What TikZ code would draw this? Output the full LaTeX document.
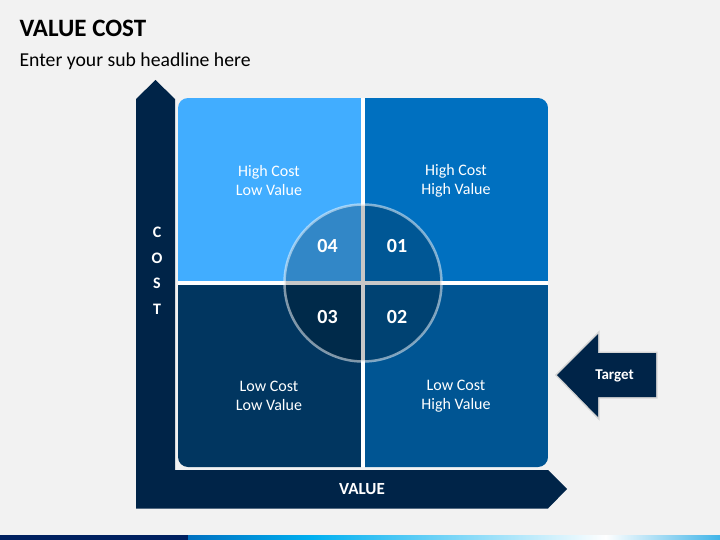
\documentclass[tikz,border=0pt]{standalone}
\usepackage{fontspec}
\setmainfont{Carlito}
\usetikzlibrary{positioning}

\definecolor{pagebg}{RGB}{242,242,242}
\definecolor{axisnavy}{RGB}{0,36,72}
\definecolor{qtl}{RGB}{65,173,255}
\definecolor{qtr}{RGB}{0,112,192}
\definecolor{qbl}{RGB}{1,54,96}
\definecolor{qbr}{RGB}{0,85,147}
\definecolor{stripnavy}{RGB}{0,32,96}
\definecolor{stripblue}{RGB}{0,112,192}
\definecolor{stripcyan}{RGB}{0,176,240}
\definecolor{stripend}{RGB}{64,180,232}

\begin{document}
\begin{tikzpicture}[x=1pt,y=-1pt,
    quad/.style={minimum width=183pt,minimum height=183pt,inner sep=0pt},
    qlabel/.style={white,align=center,font=\fontsize{16}{19}\selectfont},
    qnum/.style={white,font=\bfseries\fontsize{20}{24}\selectfont},
    axislabel/.style={white,font=\bfseries\fontsize{16}{19}\selectfont}]
            \useasboundingbox[fill=pagebg] (0,0) rectangle (720,540);

            \node[anchor=base west,font=\bfseries\fontsize{25}{30}\selectfont] (title) at (16,36.5) {VALUE COST};
            \node[anchor=base west,font=\fontsize{19.7}{23}\selectfont] (sub) at (16,66.5) {Enter your sub headline here};

            % axes
            \fill[axisnavy] (136,508.5) -- (136,99) -- (155.5,80) -- (175,99) -- (175,470)
                -- (548,470) -- (567,489) -- (548,508.5) -- cycle;
            \node[axislabel,align=center,font=\bfseries\fontsize{16}{25.5}\selectfont] (cost) at (157,271) {C\\O\\S\\T};
            \node[axislabel,font=\bfseries\fontsize{17}{20}\selectfont] (value) at (362,489.5) {VALUE};

            % quadrants
            \begin{scope}
                \clip[rounded corners=10] (178,98) rectangle (548,467);
                \node[quad,fill=qtl] (hchl) at (269.5,189.5) {};
                \node[quad,fill=qtr] (hchh) at (456.5,189.5) {};
                \node[quad,fill=qbl] (lcll) at (269.5,376) {};
                \node[quad,fill=qbr] (lchh) at (456.5,376) {};
                \fill[white] (361,98) rectangle (365,467);
                \fill[white] (178,281) rectangle (548,285);
            \end{scope}

            \node[qlabel] (thchl) at (269,180.5) {High Cost\\Low Value};
            \node[qlabel] (thchh) at (456,180.5) {High Cost\\High Value};
            \node[qlabel] (tlcll) at (269,396) {Low Cost\\Low Value};
            \node[qlabel] (tlchh) at (456,396) {Low Cost\\High Value};

            \coordinate (O) at (363,283);
            \draw[white,draw opacity=0.5,line width=2.5pt,fill=black,fill opacity=0.22] (O) circle (78.5);
            \node[qnum] (n4) at (327.5,246) {04};
            \node[qnum] (n1) at (397,246) {01};
            \node[qnum] (n3) at (327.5,317) {03};
            \node[qnum] (n2) at (397,317) {02};

            % target
            \draw[black,opacity=0.12,line width=3pt] (557,375) -- (598,334) -- (598,353) -- (656,353)
                -- (656,397) -- (598,397) -- (598,417) -- cycle;
            \fill[axisnavy] (557,375) -- (598,334) -- (598,353) -- (656,353)
                -- (656,397) -- (598,397) -- (598,417) -- cycle;
            \node[axislabel,font=\bfseries\fontsize{15}{18}\selectfont] (target) at (614.5,376) {Target};

            % strip
            \fill[stripnavy] (0,535) rectangle (188,540);
            \shade[left color=stripblue,right color=stripcyan] (188,535) rectangle (312,540);
            \shade[left color=stripcyan,right color=white] (311.5,535) rectangle (606,540);
            \shade[left color=white,right color=stripend] (605.5,535) rectangle (720,540);
        \end{tikzpicture}
\end{document}
